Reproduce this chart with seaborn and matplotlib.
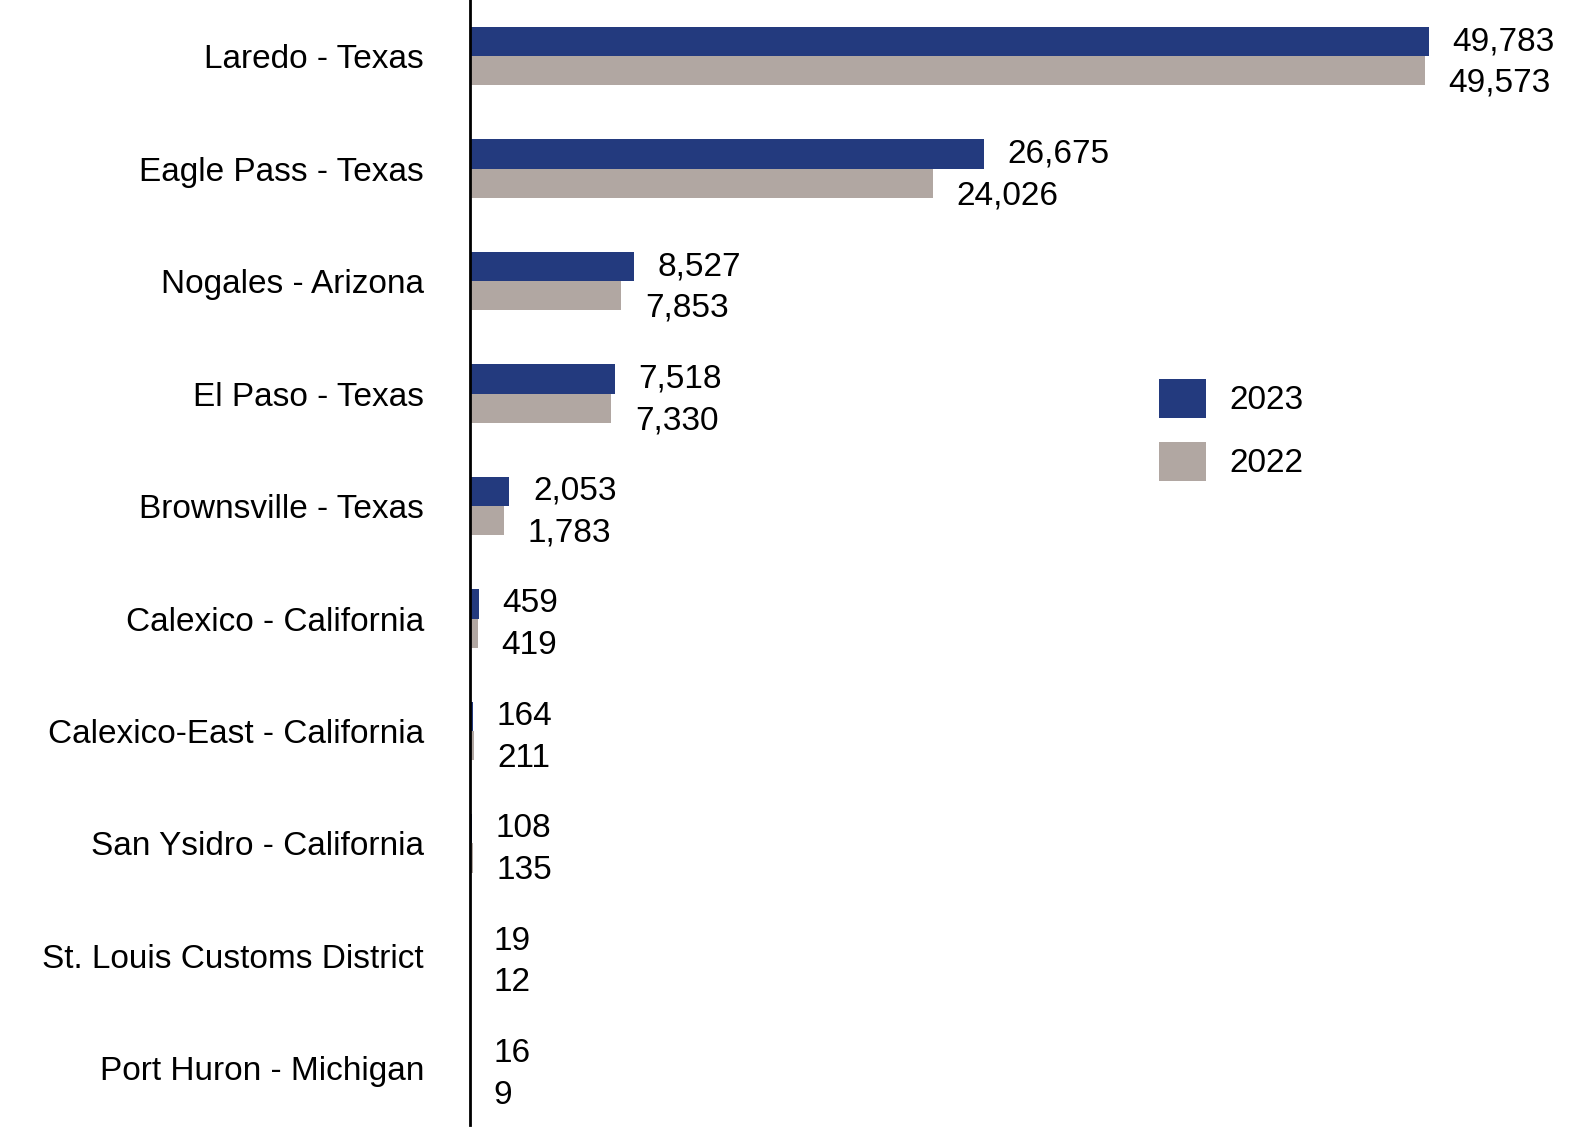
import pandas as pd
import seaborn as sns
import matplotlib.pyplot as plt
import matplotlib
matplotlib.use('Agg')

ports = ['Laredo - Texas', 'Eagle Pass - Texas', 'Nogales - Arizona', 'El Paso - Texas',
         'Brownsville - Texas', 'Calexico - California', 'Calexico-East - California',
         'San Ysidro - California', 'St. Louis Customs District', 'Port Huron - Michigan']
v2023 = [49783, 26675, 8527, 7518, 2053, 459, 164, 108, 19, 16]
v2022 = [49573, 24026, 7853, 7330, 1783, 419, 211, 135, 12, 9]
years = ['2023', '2022']
colores = {'2023': '#233a7e', '2022': '#b1a7a2'}

df = pd.DataFrame({'port': ports * 2, 'value': v2023 + v2022,
                   'year': ['2023'] * len(ports) + ['2022'] * len(ports)})

plt.rcParams['font.family'] = 'Liberation Sans'
fig = plt.figure(figsize=(15.93, 11.44), dpi=100)
ax = fig.add_axes([0.295, 0.017, 0.69, 0.983])

sns.barplot(data=df, x='value', y='port', hue='year', hue_order=years, palette=colores,
            width=0.52, saturation=1, ax=ax)

for cont, yr in zip(ax.containers, years):
    dy = 0 if yr == '2023' else -9
    for bar in cont:
        w = bar.get_width()
        ax.annotate(f'{int(w):,}', (w, bar.get_y() + bar.get_height() / 2),
                    xytext=(17, dy), textcoords='offset points', ha='left', va='center',
                    fontsize=24)

ax.set_xlim(0, 57050)
ax.set_ylim(9.5, -0.5)
ax.set_xlabel('')
ax.set_ylabel('')
ax.set_xticks([])
ax.tick_params(axis='y', length=0, labelsize=24, pad=33)
for s in ['top', 'right', 'bottom']:
    ax.spines[s].set_visible(False)
ax.spines['left'].set_linewidth(2)
ax.spines['left'].set_color('black')
ax.grid(False)

ax.legend(loc='upper left', bbox_to_anchor=(0.6, 0.69), frameon=False, fontsize=24,
          handlelength=1.4, handleheight=1.45, handletextpad=0.7, labelspacing=0.7)

plt.savefig('out.png')
plt.close()
